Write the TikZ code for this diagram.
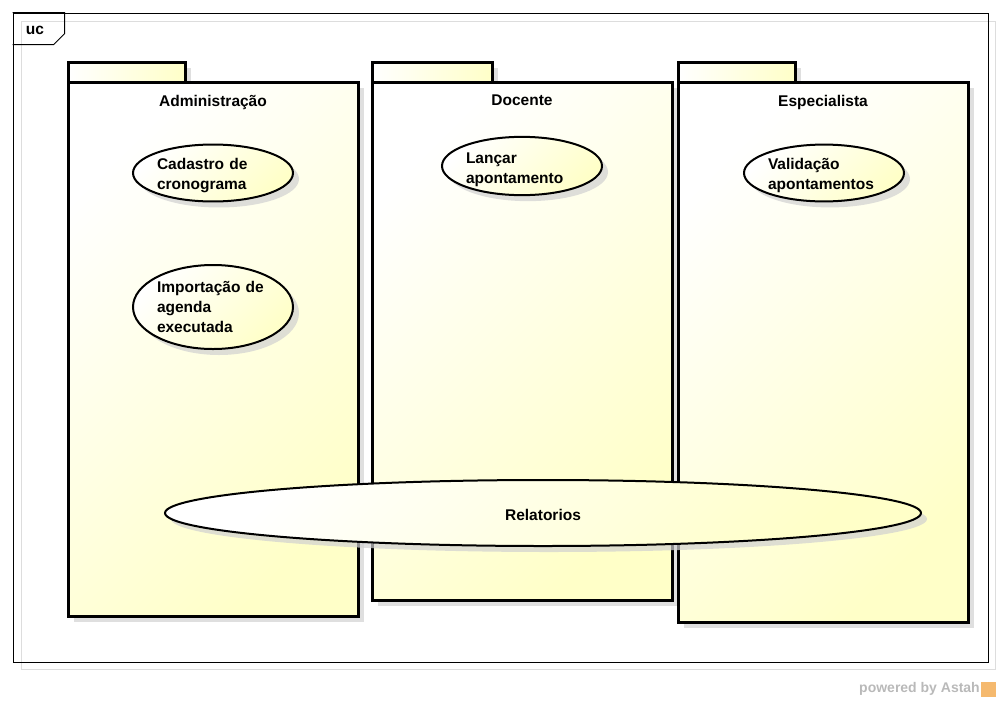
\documentclass[tikz,border=0pt]{standalone}
\usepackage{fontspec}
\setmainfont{Liberation Sans}
\usetikzlibrary{shapes,shadows,positioning}
\definecolor{astahyellow}{RGB}{255,255,200}
\definecolor{framegray}{RGB}{221,221,221}
\definecolor{markgray}{RGB}{185,185,185}
\definecolor{astahorange}{RGB}{245,185,110}

\begin{document}
\begin{tikzpicture}[x=1pt,y=-1pt,align=center,font=\fontsize{15.5}{20}\selectfont\bfseries,
  pale/.style={top color=white,bottom color=astahyellow,shading angle=45},
  shade box/.style={drop shadow={shadow xshift=6pt,shadow yshift=-6pt,fill=black!18,opacity=.7}},
  package tab/.style={rectangle,draw,line width=3pt,left color=white,right color=astahyellow,shade box,
    minimum height=20pt,inner sep=0},
  package body/.style={rectangle,draw,line width=3pt,pale,shade box,inner sep=0},
  use case/.style={ellipse,draw,line width=2pt,pale,shade box,minimum width=160pt,minimum height=56pt,
    inner sep=0,text width=112pt,align=left},
  lower text/.style={execute at begin node={\rule{0pt}{#1}}}]

  \useasboundingbox (0,0) rectangle (1001,702);

  % frame
  \node[draw=framegray,line width=.8pt,minimum width=974pt,minimum height=648pt,inner sep=0] (f) at (508,345) {};
  \node[draw,line width=.8pt,minimum width=975pt,minimum height=649pt,inner sep=0] (0) at (500.5,337.5) {};
  \draw[line width=.8pt] (0.north west) -- ++(52,0) -- ++(0,21) -- ++(-11,11) -- ++(-41,0);
  \node (uc) at (35,30) {uc};

  % packages
  \node[package tab,minimum width=117pt] (1t) at (126.5,72) {};
  \node[package body,minimum width=290pt,minimum height=534pt] (1) at (213,349) {};
  \node (1n) [below=11pt of 1.north] {Administração};

  \node[package tab,minimum width=120pt] (2t) at (432,72) {};
  \node[package body,minimum width=300pt,minimum height=518pt] (2) at (522,341) {};
  \node (2n) [below=11pt of 2.north] {Docente};

  \node[package tab,minimum width=117pt] (3t) at (736.5,72) {};
  \node[package body,minimum width=290pt,minimum height=540pt] (3) at (823,352) {};
  \node (3n) [below=11pt of 3.north] {Especialista};

  % use cases
  \node[use case,lower text=17pt] (4) at (213,173) {Cadastro de\\cronograma};
  \node[use case,minimum height=84pt] (5) at (213,307) {Importação de\\agenda\\executada};
  \node[use case,lower text=18pt] (6) at (522,166) {Lançar\\apontamento};
  \node[use case,lower text=17pt] (7) at (824,173) {Validação\\apontamentos};
  \node[use case,lower text=15pt,minimum width=756pt,minimum height=66pt,align=center] (8) at (543,513) {Relatorios};

  \node[text=markgray,font=\fontsize{14}{16}\selectfont\bfseries,anchor=east,inner sep=0] (9) at (980,689) {powered by Astah};
  \node[fill=astahorange,minimum size=15pt,inner sep=0,right=1pt of 9] (10) {};
\end{tikzpicture}
\end{document}
